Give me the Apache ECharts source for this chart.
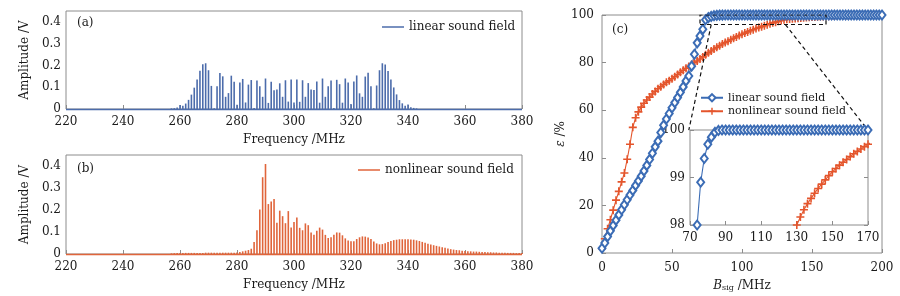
<!DOCTYPE html>
<html>
<head>
<meta charset="utf-8">
<script src="https://cdn.jsdelivr.net/npm/echarts@6/dist/echarts.min.js"></script>
<style>
  html, body { margin: 0; padding: 0; background: #fff; }
  #chart { width: 900px; height: 296px; }
</style>
</head>
<body>
<div id="chart"></div>
<script>
// spectra, one value per MHz starting at specStart
const specStart = 250;
const ampLinear = [
  0, 0, 0, 0, 0, 0, 0, 0.003, 0.004, 0.007,
  0.018, 0.015, 0.025, 0.042, 0.066, 0.098, 0.136, 0.176, 0.205, 0.21,
  0.178, 0.106, 0.004, 0.104, 0.165, 0.15, 0.056, 0.073, 0.153, 0.125,
  0.02, 0.122, 0.138, 0.03, 0.112, 0.133, 0.005, 0.131, 0.104, 0.056,
  0.14, 0.028, 0.125, 0.086, 0.089, 0.118, 0.056, 0.132, 0.034, 0.135,
  0.03, 0.135, 0.033, 0.132, 0.056, 0.119, 0.09, 0.087, 0.126, 0.029,
  0.14, 0.056, 0.105, 0.131, 0.005, 0.134, 0.114, 0.029, 0.14, 0.122,
  0.023, 0.126, 0.154, 0.072, 0.056, 0.149, 0.166, 0.105, 0.004, 0.108,
  0.178, 0.21, 0.204, 0.175, 0.135, 0.099, 0.067, 0.041, 0.026, 0.015,
  0.021, 0.008, 0.005, 0.003, 0, 0, 0, 0, 0, 0
];
const ampNonlinear = [
  0, 0, 0, 0, 0, 0, 0, 0.003, 0.004, 0.004,
  0.005, 0.005, 0.005, 0.005, 0.005, 0.005, 0.005, 0.005, 0.005, 0.006,
  0.006, 0.006, 0.006, 0.006, 0.006, 0.006, 0.006, 0.006, 0.006, 0.006,
  0.007, 0.009, 0.012, 0.015, 0.018, 0.024, 0.055, 0.108, 0.202, 0.349,
  0.409, 0.227, 0.239, 0.25, 0.142, 0.197, 0.172, 0.14, 0.195, 0.121,
  0.145, 0.166, 0.119, 0.108, 0.139, 0.131, 0.098, 0.087, 0.106, 0.12,
  0.111, 0.087, 0.073, 0.076, 0.088, 0.098, 0.097, 0.085, 0.071, 0.061,
  0.058, 0.058, 0.068, 0.076, 0.08, 0.079, 0.075, 0.068, 0.057, 0.048,
  0.044, 0.045, 0.049, 0.055, 0.059, 0.063, 0.065, 0.067, 0.067, 0.067,
  0.067, 0.066, 0.065, 0.062, 0.059, 0.055, 0.051, 0.047, 0.043, 0.04,
  0.037, 0.034, 0.031, 0.028, 0.025, 0.022, 0.02, 0.018, 0.017, 0.015,
  0.014, 0.013, 0.012, 0.011, 0.011, 0.01, 0.009, 0.009, 0.008, 0.008,
  0.007, 0.007, 0.006, 0.006, 0.006, 0.005, 0.005, 0.005, 0.004, 0.004,
  0.004
];

// (c) efficiency vs signal bandwidth
const bSig = [
  0, 2, 4, 6, 8, 10, 12, 14, 16, 18,
  20, 22, 24, 26, 28, 30, 32, 34, 36, 38,
  40, 42, 44, 46, 48, 50, 52, 54, 56, 58,
  60, 62, 64, 66, 68, 70, 72, 74, 76, 78,
  80, 82, 84, 86, 88, 90, 92, 94, 96, 98,
  100, 102, 104, 106, 108, 110, 112, 114, 116, 118,
  120, 122, 124, 126, 128, 130, 132, 134, 136, 138,
  140, 142, 144, 146, 148, 150, 152, 154, 156, 158,
  160, 162, 164, 166, 168, 170, 172, 174, 176, 178,
  180, 182, 184, 186, 188, 190, 192, 194, 196, 198,
  200
];
const effLinear = [
  2.0, 4.2, 6.9, 9.3, 11.6, 13.8, 16.0, 18.2, 20.3, 22.4,
  24.4, 26.3, 28.4, 30.3, 32.3, 34.5, 36.8, 39.3, 41.9, 44.6,
  47.0, 50.6, 53.7, 56.3, 58.6, 61.0, 63.2, 65.3, 67.5, 69.8,
  72.3, 74.4, 78.5, 83.5, 88.3, 91.2, 94.0, 98.0, 98.9, 99.4,
  99.7, 99.85, 99.95, 99.99, 100, 100, 100, 100, 100, 100,
  100, 100, 100, 100, 100, 100, 100, 100, 100, 100,
  100, 100, 100, 100, 100, 100, 100, 100, 100, 100,
  100, 100, 100, 100, 100, 100, 100, 100, 100, 100,
  100, 100, 100, 100, 100, 100, 100, 100, 100, 100,
  100, 100, 100, 100, 100, 100, 100, 100, 100, 100,
  100
];
const effNonlinear = [
  1.8, 6.0, 10.2, 14.0, 18.0, 22.2, 25.9, 29.9, 33.6, 39.4,
  45.7, 52.8, 56.8, 59.3, 61.3, 62.9, 64.3, 65.5, 66.8, 67.9,
  69.0, 69.9, 70.8, 71.7, 72.4, 73.2, 74.1, 75.0, 75.9, 76.8,
  77.6, 78.4, 79.2, 80.0, 80.7, 81.5, 82.4, 83.3, 84.1, 84.9,
  85.7, 86.4, 87.1, 87.8, 88.4, 89.0, 89.6, 90.2, 90.8, 91.4,
  91.9, 92.4, 92.9, 93.4, 93.8, 94.3, 94.7, 95.1, 95.5, 95.9,
  96.3, 96.7, 97.0, 97.4, 97.7, 98.0, 98.17, 98.32, 98.45, 98.56,
  98.67, 98.77, 98.86, 98.95, 99.04, 99.12, 99.19, 99.26, 99.32, 99.38,
  99.44, 99.5, 99.55, 99.6, 99.65, 99.7, 99.74, 99.78, 99.81, 99.84,
  99.87, 99.89, 99.91, 99.93, 99.95, 99.96, 99.97, 99.98, 99.99, 99.99,
  100
];

// dashed zoom box and the two links to the inset, in (c) data units
const zoomBox = [[70, 96], [160, 96], [160, 100], [70, 100], [70, 96]];
const zoomLinkLeft = [[78, 96], [62, 51.6]];
const zoomLinkRight = [[131, 96], [190, 51.6]];

const legendNames = {
  linSpec: 'linear sound field',
  nonSpec: 'nonlinear sound field',
  linEff: 'linear sound field',
  nonEff: 'nonlinear sound field'
};

const FONT = '"DejaVu Serif", "Liberation Serif", serif';
const TXT = '#1a1a1a';
const FRAME = '#8c8c8c';
const BLUE_SPEC = '#4c6cab';
const RED_SPEC = '#e0653b';
const BLUE = '#3b6cb5';
const RED = '#e4552c';
const PLUS = 'path://M4,0H6V4H10V6H6V10H4V6H0V4H4Z';

const lbl = (extra) => Object.assign({ fontFamily: FONT, fontSize: 12, color: TXT }, extra || {});
const tick = { inside: true, length: 4, lineStyle: { color: FRAME } };

const toPairs = (xs, ys) => ys.map((v, i) => [xs[i], v]);
const specPairs = (amps) => amps.map((v, i) => [specStart + i, v]);

const specX = (grid) => ({
  type: 'value', gridIndex: grid, min: 220, max: 380, interval: 20,
  axisLine: { show: false }, axisTick: tick, splitLine: { show: false },
  axisLabel: lbl({ margin: 7 }),
  name: 'Frequency /MHz', nameLocation: 'middle', nameGap: 25,
  nameTextStyle: lbl()
});
const specY = (grid) => ({
  type: 'value', gridIndex: grid, min: 0, max: 0.45, interval: 0.1,
  axisLine: { show: false }, axisTick: { show: false }, splitLine: { show: false },
  axisLabel: lbl({ margin: 5, showMaxLabel: false }),
  name: 'Amplitude /V', nameLocation: 'middle', nameGap: 28,
  nameTextStyle: lbl()
});

const chart = echarts.init(document.getElementById('chart'));

const gridBase = { show: true, borderColor: FRAME, borderWidth: 1, outerBoundsMode: 'none', containLabel: false };

chart.setOption({
  animation: false,
  backgroundColor: '#fff',
  grid: [
    Object.assign({ left: 66, top: 11, width: 456, height: 98 }, gridBase),
    Object.assign({ left: 66, top: 155, width: 456, height: 99 }, gridBase),
    Object.assign({ left: 602, top: 15, width: 280, height: 238 }, gridBase),
    Object.assign({ left: 690, top: 130, width: 178, height: 95, backgroundColor: '#fff' }, gridBase)
  ],
  xAxis: [
    specX(0),
    specX(1),
    {
      type: 'value', gridIndex: 2, min: 0, max: 200, interval: 50,
      axisLine: { show: false }, axisTick: tick, splitLine: { show: false },
      axisLabel: lbl({ margin: 9 }),
      name: '{i|B}{s|sig}{n| /MHz}', nameLocation: 'middle', nameGap: 23,
      nameTextStyle: lbl({
        rich: {
          i: { fontFamily: FONT, fontSize: 12, fontStyle: 'italic', color: TXT, lineHeight: 16, verticalAlign: 'bottom' },
          s: { fontFamily: FONT, fontSize: 8, color: TXT, lineHeight: 16, verticalAlign: 'bottom' },
          n: { fontFamily: FONT, fontSize: 12, color: TXT, lineHeight: 16, verticalAlign: 'bottom' }
        }
      })
    },
    {
      type: 'value', gridIndex: 3, min: 70, max: 170, interval: 20,
      axisLine: { show: false }, axisTick: tick, splitLine: { show: false },
      axisLabel: lbl({ margin: 7 })
    }
  ],
  yAxis: [
    specY(0),
    specY(1),
    {
      type: 'value', gridIndex: 2, min: 0, max: 100, interval: 20,
      axisLine: { show: false }, axisTick: tick, splitLine: { show: false },
      axisLabel: lbl({ margin: 8 }),
      name: '{i|ε} /%', nameLocation: 'middle', nameGap: 31,
      nameTextStyle: lbl({
        rich: { i: { fontFamily: FONT, fontSize: 12, fontStyle: 'italic', color: TXT } }
      })
    },
    {
      type: 'value', gridIndex: 3, min: 98, max: 100, interval: 1,
      axisLine: { show: false }, axisTick: tick, splitLine: { show: false },
      axisLabel: lbl({ margin: 5 })
    },
    {
      type: 'value', gridIndex: 3, min: 98, max: 100, interval: 1, position: 'right',
      axisLine: { show: false }, axisTick: tick, splitLine: { show: false },
      axisLabel: { show: false }
    }
  ],
  legend: [
    {
      data: [{ name: 'linSpec', icon: 'rect' }], formatter: (n) => legendNames[n],
      left: 382, top: 21, padding: 0, itemWidth: 22, itemHeight: 1.5,
      textStyle: lbl()
    },
    {
      data: [{ name: 'nonSpec', icon: 'rect' }], formatter: (n) => legendNames[n],
      left: 358, top: 164, padding: 0, itemWidth: 22, itemHeight: 1.5,
      textStyle: lbl()
    },
    {
      data: ['linEff', 'nonEff'], formatter: (n) => legendNames[n],
      orient: 'vertical', left: 700, top: 91, padding: 0, itemGap: 0,
      itemWidth: 22, itemHeight: 9,
      textStyle: lbl({ fontSize: 11, lineHeight: 13.5 })
    }
  ],
  graphic: [
    { type: 'text', left: 77, top: 17, style: { text: '(a)', font: '12px ' + FONT, fill: TXT } },
    { type: 'text', left: 77, top: 163, style: { text: '(b)', font: '12px ' + FONT, fill: TXT } },
    { type: 'text', left: 612, top: 24, style: { text: '(c)', font: '12px ' + FONT, fill: TXT } }
  ],
  series: [
    {
      name: 'linSpec', type: 'bar', xAxisIndex: 0, yAxisIndex: 0,
      data: specPairs(ampLinear), barWidth: 1.6, itemStyle: { color: BLUE_SPEC },
      markLine: {
        silent: true, symbol: 'none', label: { show: false },
        lineStyle: { color: BLUE_SPEC, width: 1.3, type: 'solid' },
        data: [{ yAxis: 0 }]
      }
    },
    {
      name: 'nonSpec', type: 'bar', xAxisIndex: 1, yAxisIndex: 1,
      data: specPairs(ampNonlinear), barWidth: 1.6, itemStyle: { color: RED_SPEC },
      markLine: {
        silent: true, symbol: 'none', label: { show: false },
        lineStyle: { color: RED_SPEC, width: 1.3, type: 'solid' },
        data: [{ yAxis: 0 }]
      }
    },
    {
      name: 'nonEff', type: 'line', xAxisIndex: 2, yAxisIndex: 2,
      data: toPairs(bSig, effNonlinear), clip: false,
      showSymbol: true, showAllSymbol: true, symbol: PLUS, symbolSize: 8,
      lineStyle: { color: RED, width: 1.1 }, itemStyle: { color: RED }
    },
    {
      name: 'linEff', type: 'line', xAxisIndex: 2, yAxisIndex: 2,
      data: toPairs(bSig, effLinear), clip: false,
      showSymbol: true, showAllSymbol: true, symbol: 'emptyDiamond', symbolSize: [7, 9],
      lineStyle: { color: BLUE, width: 1.1 }, itemStyle: { color: BLUE, borderWidth: 1 }
    },
    {
      type: 'lines', coordinateSystem: 'cartesian2d', xAxisIndex: 2, yAxisIndex: 2,
      polyline: true, silent: true, z: 5,
      lineStyle: { color: '#111', width: 1.2, type: [4, 3], opacity: 1 },
      data: [{ coords: zoomBox }, { coords: zoomLinkLeft }, { coords: zoomLinkRight }]
    },
    {
      name: 'nonEffInset', type: 'line', xAxisIndex: 3, yAxisIndex: 3,
      data: toPairs(bSig, effNonlinear), clip: true, z: 10,
      showSymbol: true, showAllSymbol: true, symbol: PLUS, symbolSize: 8,
      lineStyle: { color: RED, width: 1.1 }, itemStyle: { color: RED }
    },
    {
      name: 'linEffInset', type: 'line', xAxisIndex: 3, yAxisIndex: 3,
      data: toPairs(bSig, effLinear), clip: true, z: 10,
      showSymbol: true, showAllSymbol: true, symbol: 'emptyDiamond', symbolSize: [7, 9],
      lineStyle: { color: BLUE, width: 1.1 }, itemStyle: { color: BLUE, borderWidth: 1 }
    }
  ]
});
</script>
</body>
</html>
